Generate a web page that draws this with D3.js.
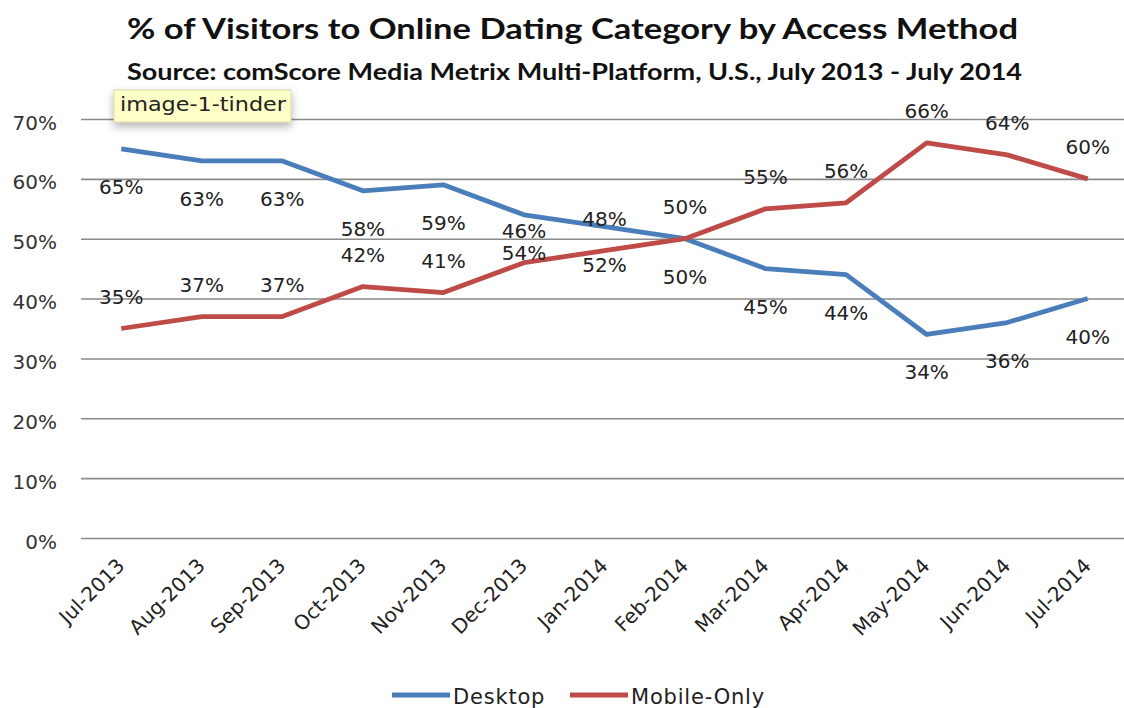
<!DOCTYPE html>
<html>
<head>
<meta charset="utf-8">
<script src="https://cdn.jsdelivr.net/npm/d3@7"></script>
<style>
  html, body { margin: 0; padding: 0; background: #fff; }
  svg { display: block; }
</style>
</head>
<body>
<svg id="chart" width="1124" height="708"></svg>
<script>
// Monthly share of visitors to the online dating category, by access method
const months = ["Jul-2013", "Aug-2013", "Sep-2013", "Oct-2013", "Nov-2013", "Dec-2013",
  "Jan-2014", "Feb-2014", "Mar-2014", "Apr-2014", "May-2014", "Jun-2014", "Jul-2014"];
const desktop = [65, 63, 63, 58, 59, 54, 52, 50, 45, 44, 34, 36, 40];
const mobileOnly = [35, 37, 37, 42, 41, 46, 48, 50, 55, 56, 66, 64, 60];
const yTicks = [0, 10, 20, 30, 40, 50, 60, 70];

const svg = d3.select("#chart");
const plot = { left: 81, right: 1128, top: 119, bottom: 538 };
const bodyFont = "'DejaVu Sans', Verdana, sans-serif";
const titleFont = "Lato, 'Liberation Sans', sans-serif";

const x = d3.scalePoint().domain(months).range([plot.left, plot.right]).padding(0.5);
const y = d3.scaleLinear().domain([0, 70]).range([plot.bottom, plot.top]);

// Title and source line
svg.append("text")
  .attr("x", 127).attr("y", 39)
  .attr("font-family", titleFont)
  .attr("font-weight", "bold").attr("font-size", 29)
  .attr("textLength", 891).attr("lengthAdjust", "spacingAndGlyphs")
  .attr("fill", "#111")
  .text("% of Visitors to Online Dating Category by Access Method");
svg.append("text")
  .attr("x", 127).attr("y", 80)
  .attr("font-family", titleFont)
  .attr("font-weight", "bold").attr("font-size", 22)
  .attr("textLength", 895).attr("lengthAdjust", "spacingAndGlyphs")
  .attr("fill", "#111")
  .text("Source: comScore Media Metrix Multi-Platform, U.S., July 2013  - July 2014");

// Horizontal gridlines
const grid = svg.append("g")
  .attr("transform", `translate(${plot.left},0)`)
  .call(d3.axisLeft(y).tickValues(yTicks).tickSize(-(plot.right - plot.left)).tickFormat(""));
grid.select(".domain").remove();
grid.selectAll(".tick line").attr("stroke", "#8a8a8a").attr("stroke-width", 1.6);

// Y axis labels
const yAxis = svg.append("g")
  .attr("transform", `translate(57,0)`)
  .call(d3.axisLeft(y).tickValues(yTicks).tickSize(0).tickPadding(0).tickFormat(d => d + "%"));
yAxis.select(".domain").remove();
yAxis.selectAll("text")
  .attr("font-family", bodyFont)
  .attr("font-size", 20).attr("fill", "#333").attr("dy", "0.5em");

// X axis labels, rotated
const xAxis = svg.append("g")
  .attr("transform", `translate(0,${plot.bottom})`)
  .call(d3.axisBottom(x).tickSize(0).tickPadding(0));
xAxis.select(".domain").remove();
xAxis.selectAll("text")
  .attr("font-family", bodyFont)
  .attr("font-size", 20).attr("fill", "#222")
  .attr("text-anchor", "end")
  .attr("dy", "0.35em")
  .attr("x", 0).attr("y", 0)
  .attr("transform", "translate(-1,24) rotate(-45)");

// Series lines
const series = [
  { name: "Desktop", values: desktop, color: "#4a7ebb", labelDy: 38 },
  { name: "Mobile-Only", values: mobileOnly, color: "#be4b48", labelDy: -32 }
];
const line = d3.line().x((d, i) => x(months[i])).y(d => y(d));

series.forEach(s => {
  svg.append("path")
    .datum(s.values)
    .attr("fill", "none")
    .attr("stroke", s.color)
    .attr("stroke-width", 4.8)
    .attr("stroke-linejoin", "round")
    .attr("d", line);
});

// Data labels
series.forEach(s => {
  svg.append("g").selectAll("text")
    .data(s.values)
    .join("text")
    .attr("x", (d, i) => x(months[i]))
    .attr("y", d => y(d) + s.labelDy)
    .attr("dy", "0.35em")
    .attr("text-anchor", "middle")
    .attr("font-family", bodyFont)
    .attr("font-size", 20).attr("fill", "#222")
    .text(d => d + "%");
});

// Legend
const legend = svg.append("g");
const legendItems = [
  { name: "Desktop", color: "#4a7ebb", x: 392 },
  { name: "Mobile-Only", color: "#be4b48", x: 570 }
];
legendItems.forEach(it => {
  legend.append("line")
    .attr("x1", it.x).attr("x2", it.x + 58)
    .attr("y1", 695).attr("y2", 695)
    .attr("stroke", it.color).attr("stroke-width", 5);
  legend.append("text")
    .attr("x", it.x + 61).attr("y", 697)
    .attr("dy", "0.35em")
    .attr("font-family", bodyFont)
    .attr("font-size", 21).attr("fill", "#222")
    .attr("letter-spacing", 0.8)
    .text(it.name);
});

// Hover note box
const defs = svg.append("defs");
const f = defs.append("filter").attr("id", "noteShadow")
  .attr("x", "-20%").attr("y", "-30%").attr("width", "140%").attr("height", "190%");
f.append("feDropShadow").attr("dx", 0).attr("dy", 4).attr("stdDeviation", 4)
  .attr("flood-color", "#000").attr("flood-opacity", 0.3);
svg.append("rect")
  .attr("x", 114).attr("y", 90).attr("width", 177).attr("height", 32)
  .attr("fill", "#ffffc8").attr("stroke", "#d8d8a8").attr("stroke-width", 1)
  .attr("filter", "url(#noteShadow)");
svg.append("text")
  .attr("x", 120).attr("y", 111)
  .attr("font-family", bodyFont)
  .attr("font-size", 19).attr("fill", "#222")
  .attr("textLength", 166).attr("lengthAdjust", "spacingAndGlyphs")
  .text("image-1-tinder");
</script>
</body>
</html>
